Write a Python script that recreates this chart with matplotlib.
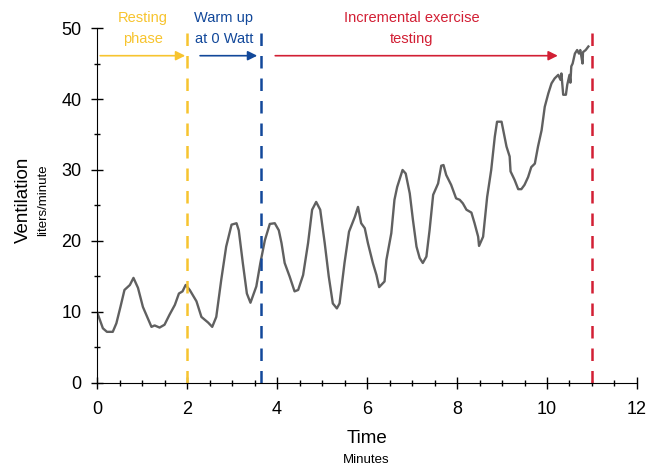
import matplotlib.pyplot as plt
from matplotlib.ticker import MultipleLocator

plt.rcParams['font.family'] = ['Liberation Sans', 'DejaVu Sans']

# ventilation trace (minutes, liters/minute)
minutes = [0.00, 0.13, 0.22, 0.35, 0.43, 0.52, 0.61, 0.73, 0.81, 0.91,
           1.02, 1.13, 1.21, 1.28, 1.39, 1.50, 1.61, 1.73, 1.82, 1.90,
           1.97, 2.06, 2.21, 2.32, 2.47, 2.56, 2.65, 2.76, 2.87, 2.99,
           3.10, 3.15, 3.24, 3.33, 3.41, 3.54, 3.63, 3.73, 3.84, 3.95,
           4.04, 4.10, 4.17, 4.28, 4.39, 4.47, 4.58, 4.69, 4.78, 4.87,
           4.96, 5.06, 5.15, 5.24, 5.33, 5.39, 5.50, 5.60, 5.73, 5.80,
           5.87, 5.95, 6.02, 6.13, 6.21, 6.27, 6.39, 6.43, 6.54, 6.61,
           6.67, 6.79, 6.86, 6.95, 7.02, 7.10, 7.17, 7.24, 7.32, 7.39,
           7.47, 7.58, 7.65, 7.70, 7.76, 7.87, 7.98, 8.06, 8.13, 8.21,
           8.32, 8.39, 8.47, 8.49, 8.58, 8.67, 8.76, 8.84, 8.89, 8.99,
           9.04, 9.10, 9.17, 9.19, 9.28, 9.36, 9.43, 9.50, 9.58, 9.65,
           9.73, 9.80, 9.88, 9.95, 10.03, 10.10, 10.17, 10.25, 10.30, 10.32,
           10.36, 10.42, 10.45, 10.50, 10.52, 10.54, 10.57, 10.62, 10.67, 10.71,
           10.74, 10.79, 10.80, 10.86, 10.92]
ventilation = [10.0, 7.7, 7.2, 7.2, 8.4, 10.7, 13.1, 13.8, 14.8, 13.4,
               10.7, 9.1, 7.9, 8.1, 7.8, 8.2, 9.6, 11.0, 12.6, 12.9,
               13.8, 13.1, 11.5, 9.3, 8.5, 7.9, 9.3, 14.5, 19.2, 22.3,
               22.5, 21.5, 16.9, 12.6, 11.3, 13.6, 16.9, 20.1, 22.4, 22.5,
               21.5, 19.7, 16.9, 15.0, 12.9, 13.1, 15.2, 19.7, 24.4, 25.5,
               24.4, 19.7, 15.0, 11.2, 10.5, 11.2, 16.9, 21.3, 23.4, 24.8,
               22.5, 21.8, 19.7, 16.9, 15.2, 13.5, 14.3, 17.3, 21.1, 25.8,
               27.6, 30.0, 29.5, 26.7, 23.0, 19.2, 17.6, 16.9, 17.8, 21.5,
               26.5, 28.1, 30.6, 30.7, 29.3, 27.9, 26.0, 25.8, 25.3, 24.4,
               24.0, 22.5, 20.6, 19.3, 20.6, 26.2, 30.0, 34.7, 36.8, 36.8,
               35.2, 33.3, 31.9, 29.8, 28.6, 27.3, 27.3, 27.9, 29.0, 30.4,
               30.9, 33.3, 35.6, 38.9, 40.8, 42.2, 42.9, 43.4, 42.7, 43.6,
               40.6, 40.6, 42.0, 43.4, 42.3, 44.6, 45.0, 46.4, 46.9, 46.4,
               46.9, 45.0, 46.6, 46.9, 47.4]

# phase boundaries and labels
phase_labels = ['Resting\nphase', 'Warm up\nat 0 Watt', 'Incremental exercise\ntesting']
phase_colors = ['#F7C42F', '#12489A', '#D21F34']
phase_ends = [2.0, 3.65, 11.0]
arrow_starts = [0.07, 2.29, 3.96]
arrow_ends = [1.96, 3.56, 10.24]
label_x = [1.02, 2.82, 7.0]

fig = plt.figure(figsize=(6.49, 4.67), dpi=100)
ax = fig.add_axes([0.1495, 0.18, 0.832, 0.76])

ax.plot(minutes, ventilation, color='#606060', lw=1.7)

for end, col in zip(phase_ends, phase_colors):
    ax.plot([end, end], [0, 50], color=col, lw=1.8, dashes=(5, 4), clip_on=False)

for x0, x1, lx, lab, col in zip(arrow_starts, arrow_ends, label_x, phase_labels, phase_colors):
    ax.annotate('', xy=(x1, 46.1), xytext=(x0, 46.1),
                arrowprops=dict(arrowstyle='-|>', color=col, lw=1.2,
                                mutation_scale=14, shrinkA=0, shrinkB=0),
                annotation_clip=False)
    ax.text(lx, 49.9, lab, color=col, fontsize=10.5, ha='center', va='center',
            linespacing=1.65)

ax.set_xlim(0, 12)
ax.set_ylim(0, 50)
ax.xaxis.set_major_locator(MultipleLocator(2))
ax.xaxis.set_minor_locator(MultipleLocator(0.5))
ax.yaxis.set_major_locator(MultipleLocator(10))
ax.yaxis.set_minor_locator(MultipleLocator(5))
ax.tick_params(which='major', direction='inout', length=8, width=1, labelsize=13)
ax.tick_params(axis='x', which='major', pad=9)
ax.tick_params(axis='y', which='major', pad=7)
ax.tick_params(which='minor', direction='inout', length=4, width=1)
ax.spines['top'].set_visible(False)
ax.spines['right'].set_visible(False)

fig.text(0.036, 0.572, 'Ventilation', rotation=90, fontsize=13.5, ha='center', va='center')
fig.text(0.066, 0.572, 'liters/minute', rotation=90, fontsize=9.5, ha='center', va='center')
fig.text(0.565, 0.062, 'Time', fontsize=13.5, ha='center', va='center')
fig.text(0.565, 0.015, 'Minutes', fontsize=9.5, ha='center', va='center')

fig.savefig('out.png', dpi=100)
